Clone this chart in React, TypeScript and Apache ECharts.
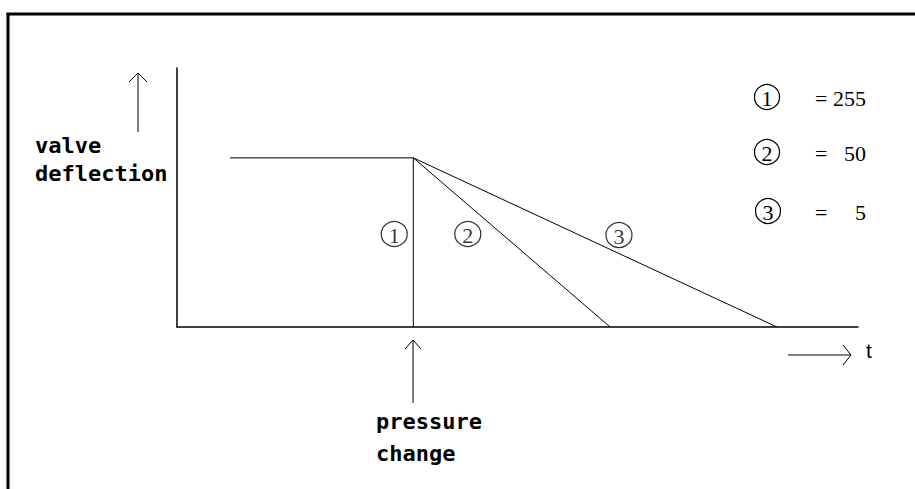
import React, { useEffect, useRef } from "react";
import * as echarts from "echarts";

// time axis (arbitrary units 0..100) and valve deflection (0..100)
const levelStart = 7.8;
const changeTime = 34.7;
const level = 65.3;
const endTimes = [34.7, 63.6, 88.1]; // where curves 1, 2, 3 reach zero
const curveLabels = ["1", "2", "3"];
const labelPoints: [number, number][] = [
  [31.9, 35.9],
  [42.7, 35.9],
  [64.9, 35.5],
];
const legendValues = ["255", "50", "5"];

const MONO = "'DejaVu Sans Mono', 'Liberation Mono', monospace";
const SERIF = "'Liberation Serif', 'DejaVu Serif', serif";

export default function App() {
  const ref = useRef<HTMLDivElement>(null);
  useEffect(() => {
    if (!ref.current) return;
    const chart = echarts.init(ref.current, null, { renderer: "svg" });
    const lineStyle = { color: "#000", width: 1 };
    const series: any[] = [
      {
        type: "line",
        data: [
          [levelStart, level],
          [changeTime, level],
          [endTimes[0], 0],
        ],
        symbol: "none",
        lineStyle,
      },
      {
        type: "line",
        data: [
          [changeTime, level],
          [endTimes[1], 0],
        ],
        symbol: "none",
        lineStyle,
      },
      {
        type: "line",
        data: [
          [changeTime, level],
          [endTimes[2], 0],
        ],
        symbol: "none",
        lineStyle,
      },
      {
        type: "scatter",
        data: labelPoints.map((p, i) => ({ value: p, name: curveLabels[i] })),
        symbol: "circle",
        symbolSize: [26, 25],
        itemStyle: { color: "rgba(255,255,255,0)", borderColor: "#000", borderWidth: 1.2 },
        label: {
          show: true,
          position: "inside",
          formatter: (p: any) => p.name,
          fontFamily: SERIF,
          fontSize: 22,
          color: "#000",
          offset: [0, 1],
        },
      },
    ];

    const mono = (text: string, x: number, y: number) => ({
      type: "text",
      style: { text, x, y, fontFamily: MONO, fontSize: 22, fontWeight: "bold", fill: "#000", verticalAlign: "middle" },
    });

    const graphic: any[] = [
      // frame
      { type: "line", shape: { x1: 8, y1: 13, x2: 8, y2: 489 }, style: { stroke: "#000", lineWidth: 3 } },
      { type: "line", shape: { x1: 6.5, y1: 14, x2: 915, y2: 14 }, style: { stroke: "#000", lineWidth: 3 } },
      // up arrow near y axis
      { type: "line", shape: { x1: 138, y1: 132, x2: 138, y2: 73 }, style: { stroke: "#000", lineWidth: 1 } },
      { type: "polyline", shape: { points: [[129, 82], [138, 73], [147, 82]] }, style: { stroke: "#000", fill: null, lineWidth: 1 } },
      // pressure change arrow
      { type: "line", shape: { x1: 413, y1: 403, x2: 413, y2: 340 }, style: { stroke: "#000", lineWidth: 1 } },
      { type: "polyline", shape: { points: [[405, 349], [413, 340], [421, 349]] }, style: { stroke: "#000", fill: null, lineWidth: 1 } },
      // time arrow
      { type: "line", shape: { x1: 788, y1: 355, x2: 851, y2: 355 }, style: { stroke: "#000", lineWidth: 1 } },
      { type: "polyline", shape: { points: [[843, 345], [851, 355], [843, 365]] }, style: { stroke: "#000", fill: null, lineWidth: 1 } },
      // texts
      mono("valve", 35, 145),
      mono("deflection", 35, 173),
      mono("pressure", 376, 421),
      mono("change", 376, 453),
      { type: "text", style: { text: "t", x: 866, y: 350, fontFamily: "'Liberation Sans', Arial, sans-serif", fontSize: 21, fill: "#000", verticalAlign: "middle" } },
    ];
    const legendY = [97, 152, 211];
    const legendCx = [767, 767, 768];
    legendValues.forEach((v, i) => {
      graphic.push({
        type: "circle",
        shape: { cx: legendCx[i], cy: legendY[i], r: 12.5 },
        style: { stroke: "#000", fill: null, lineWidth: 1.2 },
      });
      graphic.push({
        type: "text",
        style: { text: curveLabels[i], x: legendCx[i], y: legendY[i] + 1, fontFamily: SERIF, fontSize: 22, fill: "#000", align: "center", verticalAlign: "middle" },
      });
      graphic.push({
        type: "text",
        style: { text: "=", x: 815, y: legendY[i] + 1, fontFamily: SERIF, fontSize: 22, fill: "#000", verticalAlign: "middle" },
      });
      graphic.push({
        type: "text",
        style: { text: v, x: 866, y: legendY[i] + 1, fontFamily: SERIF, fontSize: 22, fill: "#000", align: "right", verticalAlign: "middle" },
      });
    });

    chart.setOption({
      animation: false,
      backgroundColor: "#fff",
      grid: { left: 177, right: 57, top: 68, bottom: 162 },
      xAxis: {
        type: "value",
        min: 0,
        max: 100,
        axisLine: { show: true, lineStyle: { color: "#000", width: 1.5 } },
        axisTick: { show: false },
        axisLabel: { show: false },
        splitLine: { show: false },
      },
      yAxis: {
        type: "value",
        min: 0,
        max: 100,
        axisLine: { show: true, lineStyle: { color: "#000", width: 1.5 } },
        axisTick: { show: false },
        axisLabel: { show: false },
        splitLine: { show: false },
      },
      series,
      graphic,
    });
    return () => chart.dispose();
  }, []);
  return (
    <div
      ref={ref}
      style={{ position: "fixed", left: 0, top: 0, width: 915, height: 489 }}
    />
  );
}
